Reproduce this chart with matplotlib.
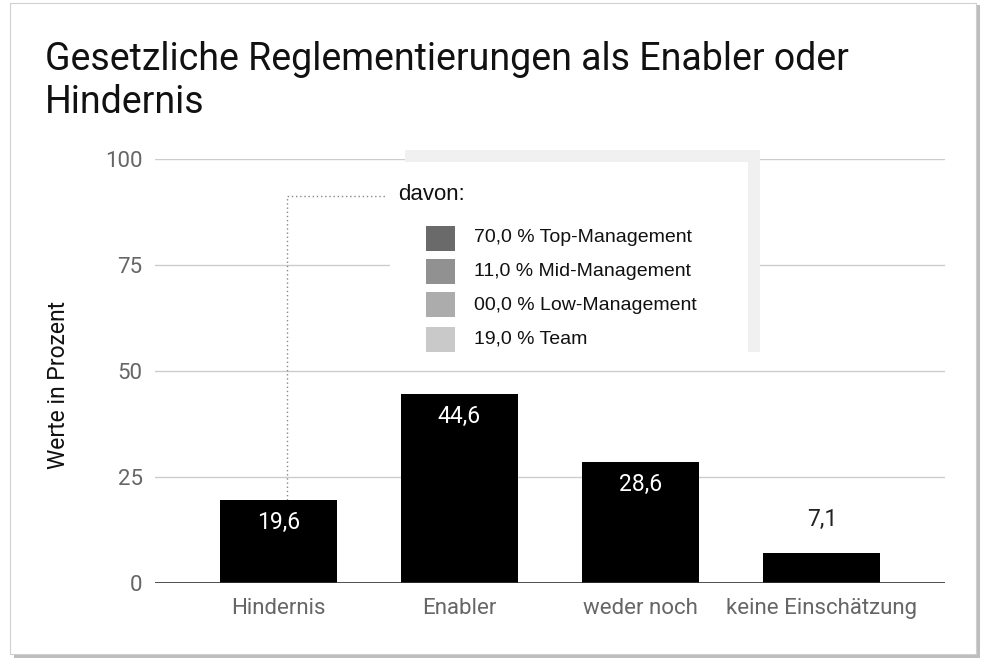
import numpy as np
import matplotlib
matplotlib.use("Agg")
import matplotlib.pyplot as plt
from matplotlib.patches import Rectangle

# data
categories = ["Hindernis", "Enabler", "weder noch", "keine Einschätzung"]
values = [19.6, 44.6, 28.6, 7.1]
yticks = [0, 25, 50, 75, 100]

# "davon" breakdown of Hindernis
groups = ["Top-Management", "Mid-Management", "Low-Management", "Team"]
shares = [70.0, 11.0, 0.0, 19.0]
group_colors = ["#6a6a6a", "#919191", "#acacac", "#c9c9c9"]

plt.rcParams['font.family'] = ['Roboto', 'DejaVu Sans']

fig = plt.figure(figsize=(9.88, 6.66), dpi=100)
fig.patch.set_facecolor("white")

# card with light shadow
fig.patches.append(Rectangle((14/988, 8/666), 966/988, 653/666, transform=fig.transFigure,
                             facecolor="#bdbdbd", edgecolor="none", zorder=-10))
fig.patches.append(Rectangle((10/988, 12/666), 966/988, 651/666, transform=fig.transFigure,
                             facecolor="white", edgecolor="#d0d0d0", lw=0.8, zorder=-9))

ax = fig.add_axes([155/988, 83/666, 790/988, 424/666])
ax.set_facecolor("none")
ax.set_zorder(2)

x = np.arange(len(categories))
bars = ax.bar(x, values, width=0.645, color="black", zorder=3)

for xi, v in zip(x, values):
    if v > 15:
        ax.text(xi, v - 5.4, f"{v:.1f}".replace(".", ","), color="white",
                ha="center", va="center", fontsize=16.5, zorder=4)
    else:
        ax.text(xi, v + 7.8, f"{v:.1f}".replace(".", ","), color="#222222",
                ha="center", va="center", fontsize=16.5, zorder=4)

ax.set_xlim(-0.68, 3.68)
ax.set_ylim(0, 100)
ax.set_yticks(yticks)
ax.set_yticklabels([str(t) for t in yticks], color="#666666", fontsize=16)
ax.set_xticks(x)
ax.set_xticklabels(categories, color="#666666", fontsize=16)
ax.tick_params(length=0)
ax.tick_params(axis="y", pad=9)
ax.tick_params(axis="x", pad=11)
for s in ax.spines.values():
    s.set_visible(False)
ax.grid(axis="y", color="#cccccc", lw=1, zorder=0)
ax.axhline(0, color="#333333", lw=1.2, zorder=4)
ax.set_ylabel("Werte in Prozent", fontsize=16.5, color="#111111")
ax.yaxis.set_label_coords(-0.108, 0.467)

# title
fig.text(45/988, 1 - 81/666, "Gesetzliche Reglementierungen als Enabler oder\nHindernis",
         fontsize=27, color="#111111", ha="left", va="center", linespacing=1.2)

# "davon" box
ax.add_patch(Rectangle((0.3165, 0.545), 0.4495, 0.476, transform=ax.transAxes,
                       facecolor="#f0f0f0", edgecolor="none", clip_on=False, zorder=5))
ax.add_patch(Rectangle((0.297, 0.545), 0.454, 0.448, transform=ax.transAxes,
                       facecolor="white", edgecolor="none", clip_on=False, zorder=6))
ax.text((398 - 155) / 790, (583 - 195) / 424, "davon:", transform=ax.transAxes,
        fontsize=16, color="#111111", ha="left", va="center", zorder=7,
        family=["Liberation Sans", "DejaVu Sans"])
row_y = [238, 272, 305, 339]
for g, s, c, py in zip(groups, shares, group_colors, row_y):
    yc = (583 - py) / 424
    ax.add_patch(Rectangle(((426 - 155) / 790, yc - 12.5 / 424), 29 / 790, 25 / 424,
                           transform=ax.transAxes, facecolor=c, edgecolor="none",
                           clip_on=False, zorder=7))
    ax.text((474 - 155) / 790, yc, f"{s:04.1f}".replace(".", ",") + " % " + g,
            transform=ax.transAxes, fontsize=14, color="#111111", ha="left",
            va="center", zorder=7, family=["Liberation Sans", "DejaVu Sans"])

# dotted connector from Hindernis bar to the box
x_line = 0.05
ax.plot([x_line, x_line, 0.59], [values[0], 91.3, 91.3], color="#888888", lw=1,
        ls=(0, (1, 2)), clip_on=False, zorder=2)

fig.savefig("out.png", dpi=100, facecolor="white")
